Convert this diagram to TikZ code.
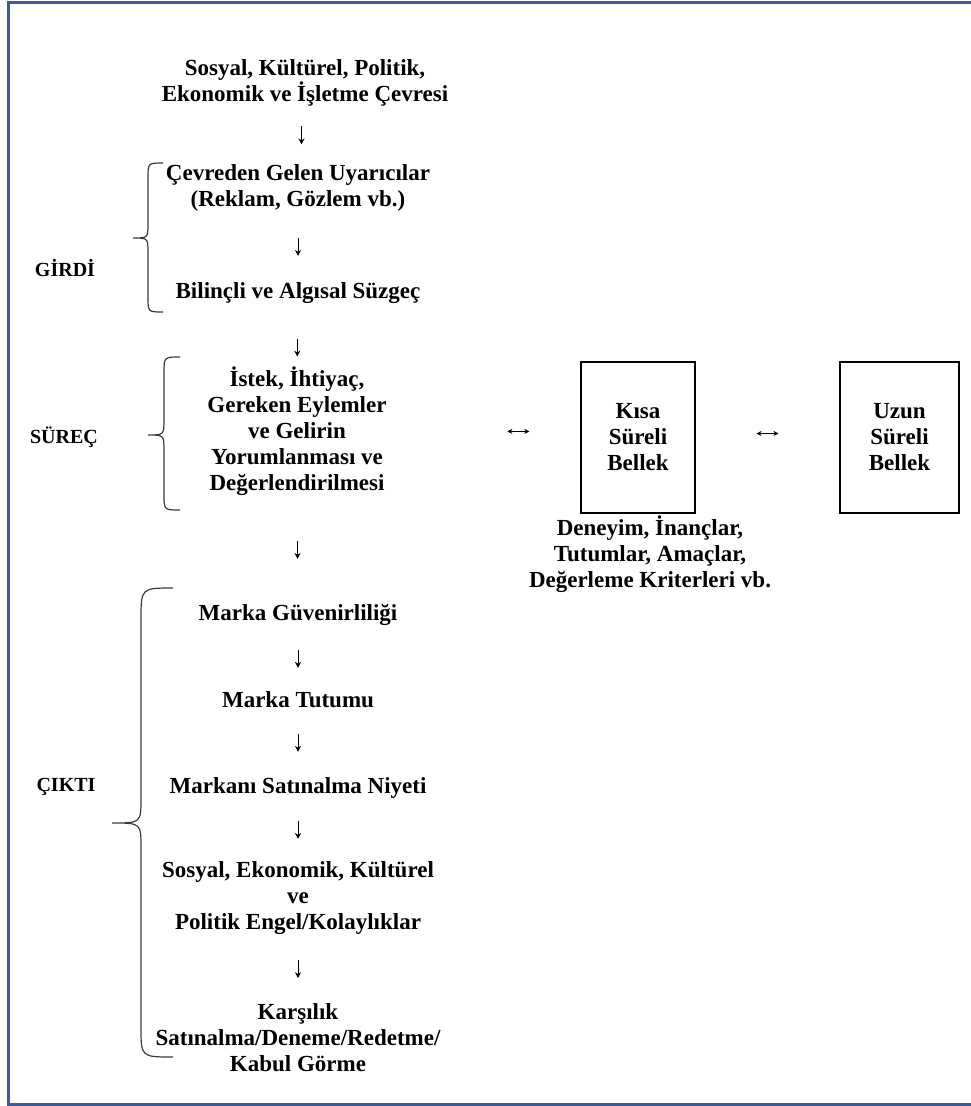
\documentclass[tikz,border=0pt]{standalone}
\usepackage{fontspec}
\setmainfont{Liberation Serif}
\usetikzlibrary{arrows.meta,calc}
\definecolor{framebl}{HTML}{3B5C9C}
\definecolor{bracegray}{HTML}{3A3A3A}
\begin{document}
\begin{tikzpicture}[x=1pt,y=-1pt,
  txt/.style={font=\bfseries\fontsize{23}{26}\selectfont, align=center, inner sep=0pt},
  lbl/.style={font=\bfseries\fontsize{20}{24}\selectfont, inner sep=0pt},
  mem/.style={txt, draw, line width=1.3pt, minimum height=151pt, align=center},
  brc/.style={line width=1.2pt, draw=bracegray},
  stepdown/.style={line width=1pt, -{Stealth[length=6pt,width=6pt]},
    to path={($(\tikztostart.south)!#1!(\tikztotarget.north)+(0,9pt)$)
      -- ($(\tikztostart.south)!#1!(\tikztotarget.north)+(0,-9pt)$)}},
  stepdown/.default=0.5,
  twoway/.style={line width=0.9pt, {Stealth[length=5pt,width=5pt]}-{Stealth[length=5pt,width=5pt]},
    to path={($(\tikztostart.east)!#1!(\tikztotarget.west)+(-11pt,4pt)$)
      -- ($(\tikztostart.east)!#1!(\tikztotarget.west)+(11pt,4pt)$)}},
  twoway/.default=0.5]

\useasboundingbox (0,0) rectangle (971,1106);

% outer frame (open towards the right edge)
\draw[framebl, line width=3pt] (980,2) -- (8,2) -- (8,1104) -- (980,1104);

% main column
\node[txt] (env) at (305,83) {Sosyal, Kültürel, Politik,\\Ekonomik ve İşletme Çevresi};
\node[txt] (stim) at (298,188) {Çevreden Gelen Uyarıcılar\\(Reklam, Gözlem vb.)};
\node[txt] (filter) at (298,293) {Bilinçli ve Algısal Süzgeç};
\node[txt] (surec) at (297,431) {İstek, İhtiyaç,\\Gereken Eylemler\\ve Gelirin\\Yorumlanması ve\\Değerlendirilmesi};
\node[txt] (mg) at (298,615) {Marka Güvenirliliği};
\node[txt] (mt) at (298,700) {Marka Tutumu};
\node[txt] (msn) at (298,788) {Markanı Satınalma Niyeti};
\node[txt] (engel) at (298,898) {Sosyal, Ekonomik, Kültürel\\ve\\Politik Engel/Kolaylıklar};
\node[txt] (karsi) at (298,1038) {Karşılık\\Satınalma/Deneme/Redetme/\\Kabul Görme};

% memory boxes
\node[mem, minimum width=114pt] (kisa) at (638,437.5) {Kısa\\Süreli\\Bellek};
\node[mem, minimum width=119pt] (uzun) at (899.5,437.5) {Uzun\\Süreli\\Bellek};
\node[txt] (deneyim) at (650,554) {Deneyim, İnançlar,\\Tutumlar, Amaçlar,\\Değerleme Kriterleri vb.};

% stage labels
\node[lbl] (girdi) at (65,268) {GİRDİ};
\node[lbl] (surecl) at (64,437) {SÜREÇ};
\node[lbl] (cikti) at (66,787) {ÇIKTI};

% flow arrows
\draw[stepdown] (env) to (stim);
\draw[stepdown] (stim) to (filter);
\draw[stepdown=0.7] (filter) to (surec);
\draw[stepdown] (surec) to (mg);
\draw[stepdown] (mg) to (mt);
\draw[stepdown] (mt) to (msn);
\draw[stepdown] (msn) to (engel);
\draw[stepdown] (engel) to (karsi);
\draw[twoway=0.68] (surec) to (kisa);
\draw[twoway] (kisa) to (uzun);

% braces
\draw[brc] (163,163) .. controls (148,163) .. (148,178) -- (148,223)
  .. controls (148,238) .. (133,238) .. controls (148,238) .. (148,253)
  -- (148,297) .. controls (148,312) .. (163,312);
\draw[brc] (180,357) .. controls (164,357) .. (164,373) -- (164,419)
  .. controls (164,435) .. (148,435) .. controls (164,435) .. (164,451)
  -- (164,494) .. controls (164,510) .. (180,510);
\draw[brc] (173,588) .. controls (141,588) .. (141,620) -- (141,798)
  .. controls (141,823) .. (112,823) .. controls (141,823) .. (141,848)
  -- (141,1027) .. controls (141,1057) .. (173,1057);
\end{tikzpicture}
\end{document}
